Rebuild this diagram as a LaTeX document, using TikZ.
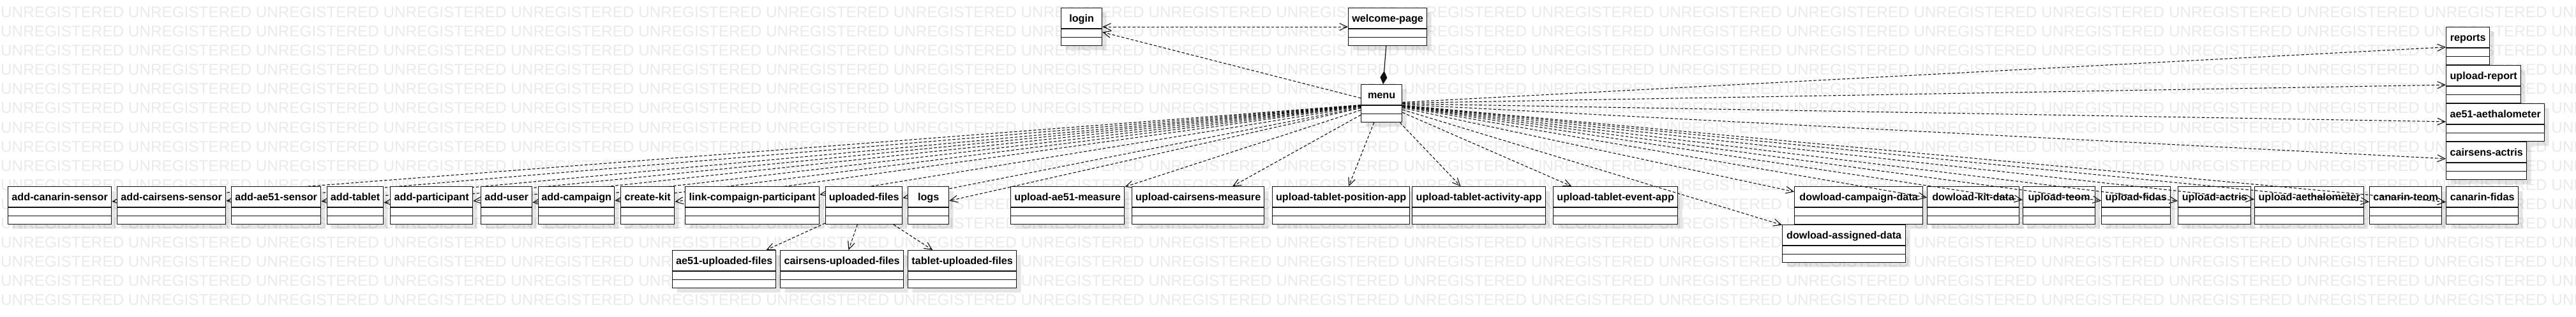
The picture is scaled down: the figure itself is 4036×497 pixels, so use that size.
\documentclass[tikz,border=0pt]{standalone}
\usepackage{fontspec}
\setmainfont{Liberation Sans}
\usepackage{xcolor}
\definecolor{wmgray}{HTML}{EAEAEA}
\definecolor{linedark}{HTML}{111111}
\usepackage{tikz}
\usetikzlibrary{shapes.multipart,arrows.meta,positioning,backgrounds,shadows}
\pgfdeclarelayer{edges}
\pgfsetlayers{background,edges,main}

% class box: name + two empty compartments
\newcommand{\cls}[1]{\rule[-9.5pt]{0pt}{31pt}\mbox{#1}\nodepart{two}\rule{0pt}{12pt}\nodepart{three}\rule{0pt}{12pt}}
\newcommand{\wmrow}{UNREGISTERED UNREGISTERED UNREGISTERED UNREGISTERED UNREGISTERED UNREGISTERED UNREGISTERED UNREGISTERED UNREGISTERED UNREGISTERED UNREGISTERED UNREGISTERED UNREGISTERED UNREGISTERED UNREGISTERED UNREGISTERED UNREGISTERED UNREGISTERED UNREGISTERED UNREGISTERED UNREGISTERED}
\tikzset{openv/.tip={Straight Barb[length=12pt,width=11pt]}}

\begin{document}
\begin{tikzpicture}[x=1pt, y=-1pt,
    classbox/.style={rectangle split, rectangle split parts=3, rectangle split ignore empty parts=false, draw=linedark, fill=white, line width=1.3pt, anchor=north west, inner xsep=0pt, inner ysep=0pt, align=center, font=\bfseries\fontsize{16.2}{18}\selectfont, drop shadow={shadow xshift=7pt, shadow yshift=-7pt, fill=black, opacity=.1}},
    dep/.style={-openv, linedark, dash pattern=on 4.5pt off 3pt, line width=1.1pt},
    comp/.style={-{Diamond[length=21pt,width=11pt]}, linedark, line width=1.2pt},
    watermark/.style={anchor=base west, inner sep=0pt, text=wmgray, font=\fontsize{24.3}{26}\selectfont}
  ]
  \useasboundingbox (0,0) rectangle (4036,497);
  \begin{scope}[on background layer]
    \fill[white] (0,0) rectangle (4036,497);
    \clip (0,0) rectangle (4036,497);
    \foreach \r in {0,...,15}
      \node[watermark] (wm\r) at (1,28+30*\r) {\wmrow};
  \end{scope}

  % top
  \node[classbox, text width=64pt] (login) at (1662,12) {\cls{login}};
  \node[classbox, text width=123pt] (welcome) at (2112,12) {\cls{welcome-page}};
  \node[classbox, text width=64pt] (menu) at (2132,132) {\cls{menu}};

  % right column
  \node[classbox, text width=68pt] (reports) at (3832,42) {\cls{reports}};
  \node[classbox, text width=117pt] (upreport) at (3832,102) {\cls{upload-report}};
  \node[classbox, text width=154pt] (aethalometer) at (3832,162) {\cls{ae51-aethalometer}};
  \node[classbox, text width=126pt] (actris) at (3832,222) {\cls{cairsens-actris}};

  % main row
  \node[classbox, text width=162pt] (addcanarin) at (12,292) {\cls{add-canarin-sensor}};
  \node[classbox, text width=170pt] (addcairsens) at (183,292) {\cls{add-cairsens-sensor}};
  \node[classbox, text width=140pt] (addae51) at (362,292) {\cls{add-ae51-sensor}};
  \node[classbox, text width=88pt] (addtablet) at (512,292) {\cls{add-tablet}};
  \node[classbox, text width=129pt] (addparticipant) at (611,292) {\cls{add-participant}};
  \node[classbox, text width=80pt] (adduser) at (753,292) {\cls{add-user}};
  \node[classbox, text width=119pt] (addcampaign) at (843,292) {\cls{add-campaign}};
  \node[classbox, text width=84pt] (createkit) at (972,292) {\cls{create-kit}};
  \node[classbox, text width=210pt] (linkparticipant) at (1073,292) {\cls{link-compaign-participant}};
  \node[classbox, text width=120pt] (uploadedfiles) at (1293,292) {\cls{uploaded-files}};
  \node[classbox, text width=64pt] (logs) at (1422,292) {\cls{logs}};
  \node[classbox, text width=178pt] (upae51) at (1583,292) {\cls{upload-ae51-measure}};
  \node[classbox, text width=207pt] (upcairsens) at (1773,292) {\cls{upload-cairsens-measure}};
  \node[classbox, text width=215pt] (uptabpos) at (1993,292) {\cls{upload-tablet-position-app}};
  \node[classbox, text width=209pt] (uptabact) at (2212,292) {\cls{upload-tablet-activity-app}};
  \node[classbox, text width=195pt] (uptabevent) at (2433,292) {\cls{upload-tablet-event-app}};
  \node[classbox, text width=201pt] (dlcampaign) at (2811,292) {\cls{dowload-campaign-data}};
  \node[classbox, text width=144pt] (dlkit) at (3019,292) {\cls{dowload-kit-data}};
  \node[classbox, text width=113pt] (upteom) at (3169,292) {\cls{upload-teom}};
  \node[classbox, text width=108pt] (upfidas) at (3292,292) {\cls{upload-fidas}};
  \node[classbox, text width=114pt] (upactris) at (3412,292) {\cls{upload-actris}};
  \node[classbox, text width=171pt] (upaeth) at (3532,292) {\cls{upload-aethalometer}};
  \node[classbox, text width=113pt] (canteom) at (3712,292) {\cls{canarin-teom}};
  \node[classbox, text width=113pt] (canfidas) at (3832,292) {\cls{canarin-fidas}};

  % below
  \node[classbox, text width=193pt] (dlassigned) at (2792,352) {\cls{dowload-assigned-data}};
  \node[classbox, text width=162pt] (ae51files) at (1053,392) {\cls{ae51-uploaded-files}};
  \node[classbox, text width=193pt] (cairsensfiles) at (1222,392) {\cls{cairsens-uploaded-files}};
  \node[classbox, text width=170pt] (tabletfiles) at (1422,392) {\cls{tablet-uploaded-files}};

  \begin{pgfonlayer}{edges}
    \draw[dep, openv-openv] (login) -- (welcome);
    \draw[dep] (menu) -- (login);
    \draw[dep] (menu) -- (addcanarin);
    \draw[dep] (menu) -- (addcairsens);
    \draw[dep] (menu) -- (addae51);
    \draw[dep] (menu) -- (addtablet);
    \draw[dep] (menu) -- (addparticipant);
    \draw[dep] (menu) -- (adduser);
    \draw[dep] (menu) -- (addcampaign);
    \draw[dep] (menu) -- (createkit);
    \draw[dep] (menu) -- (linkparticipant);
    \draw[dep] (menu) -- (uploadedfiles);
    \draw[dep] (menu) -- (logs);
    \draw[dep] (menu) -- (upae51);
    \draw[dep] (menu) -- (upcairsens);
    \draw[dep] (menu) -- (uptabpos);
    \draw[dep] (menu) -- (uptabact);
    \draw[dep] (menu) -- (uptabevent);
    \draw[dep] (uploadedfiles) -- (ae51files);
    \draw[dep] (uploadedfiles) -- (cairsensfiles);
    \draw[dep] (uploadedfiles) -- (tabletfiles);
  \end{pgfonlayer}

  \draw[comp] (welcome) -- (menu);
  \draw[dep] (menu) -- (dlassigned);
  \draw[dep] (menu) -- (dlcampaign);
  \draw[dep] (menu) -- (dlkit);
  \draw[dep] (menu) -- (upteom);
  \draw[dep] (menu) -- (upfidas);
  \draw[dep] (menu) -- (upactris);
  \draw[dep] (menu) -- (upaeth);
  \draw[dep] (menu) -- (canteom);
  \draw[dep] (menu) -- (canfidas);
  \draw[dep] (menu) -- (reports);
  \draw[dep] (menu) -- (upreport);
  \draw[dep] (menu) -- (aethalometer);
  \draw[dep] (menu) -- (actris);
\end{tikzpicture}
\end{document}
